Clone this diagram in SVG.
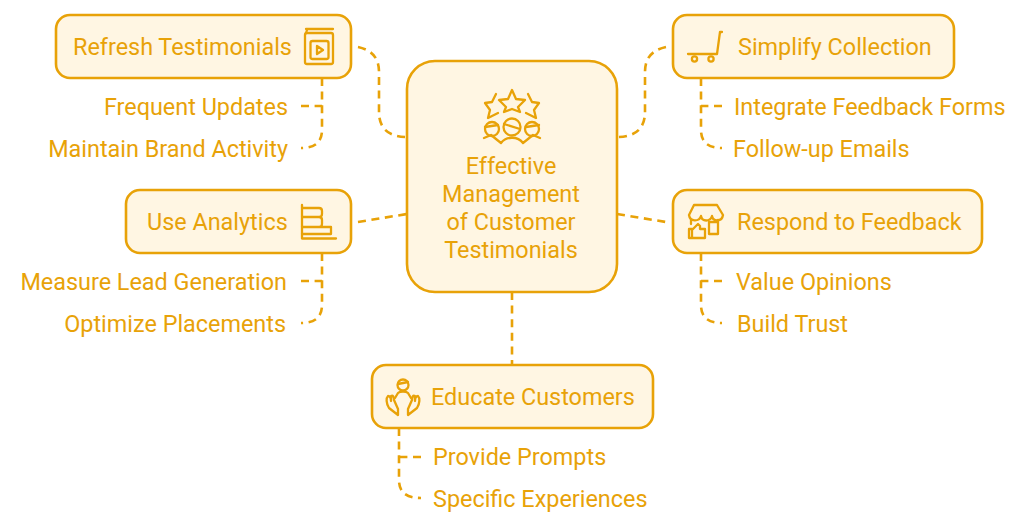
<svg xmlns="http://www.w3.org/2000/svg" width="1024" height="527" viewBox="0 0 1024 527">
<style>
.box{fill:#fff6e3;stroke:#e8a208;stroke-width:2.6}
.t{font-family:Roboto,"Liberation Sans",sans-serif;font-size:23.4px;fill:#e8a208}
.m{text-anchor:middle}
.e{text-anchor:end}
.ic{fill:none;stroke:#e8a208;stroke-width:2.3;stroke-linecap:round;stroke-linejoin:round}
#connectors path{fill:none;stroke:#e8a208;stroke-width:2.6;stroke-dasharray:8 5.6}
</style>
<rect width="1024" height="527" fill="#fff"/>
<g id="connectors">
<path d="M358 47C372 50 379 58 379 72V112C379 128 388 137 407 137"/>
<path d="M666 47C652 50 645 58 645 72V112C645 128 636 137 617 137"/>
<path d="M358 222L407 214"/>
<path d="M617 214L666 222"/>
<path d="M512 292V365"/>
<path d="M301 106H322"/>
<path d="M322 78V130C322 143 314 148 301 148"/>
<path d="M722 106H701"/>
<path d="M701 78V130C701 143 709 148 722 148"/>
<path d="M301 281H322"/>
<path d="M322 253V305C322 318 314 323 301 323"/>
<path d="M722 281H701"/>
<path d="M701 253V305C701 318 709 323 722 323"/>
<path d="M421 457H399"/>
<path d="M399 428V480C399 493 407 498 421 498"/>
</g>
<g id="center">
<rect class="box" x="407" y="61" width="210" height="231" rx="28"/>
<g class="ic">
<path d="M512 90L516 99L525 100L518 107L520 112L512 109L504 112L506 107L499 100L508 99Z"/>
<path d="M496 94L492 102L485 103L490 110L488 118L498 113"/>
<path d="M528 94L532 102L539 103L534 110L536 118L526 113"/>
<circle cx="492" cy="129" r="7"/><circle cx="512" cy="127" r="8.5"/><circle cx="532" cy="129" r="7"/>
<path d="M485 127L498 125M504 124L520 129M526 127L539 125"/>
<path d="M484 138L491 135L501 143C506 136 518 136 523 143L533 135L540 138"/>
</g>
<text class="t m" x="511" y="174">Effective</text>
<text class="t m" x="511" y="202">Management</text>
<text class="t m" x="511" y="230">of Customer</text>
<text class="t m" x="511" y="258">Testimonials</text>
</g>
<g id="refresh">
<rect class="box" x="56" y="15" width="295" height="63" rx="14"/>
<text class="t" x="73" y="55">Refresh Testimonials</text>
<g class="ic">
<rect x="305" y="33" width="28" height="31" rx="2"/>
<path d="M306 29H333M306 33L307 30"/>
<rect x="310.500" y="41" width="18" height="18" rx="2"/>
<path d="M317 46L323 50L317 54Z"/>
</g>
</g>
<g id="refresh-items">
<text class="t e" x="288" y="115">Frequent Updates</text>
<text class="t e" x="288" y="157">Maintain Brand Activity</text>
</g>
<g id="simplify">
<rect class="box" x="673" y="15" width="281" height="63" rx="14"/>
<text class="t" x="738" y="55">Simplify Collection</text>
<g class="ic">
<path d="M688 54H717L720 32H722"/>
<circle cx="694.500" cy="59" r="2.600"/><circle cx="711" cy="59" r="2.600"/>
</g>
</g>
<g id="simplify-items">
<text class="t" x="734" y="115">Integrate Feedback Forms</text>
<text class="t" x="733" y="157">Follow-up Emails</text>
</g>
<g id="analytics">
<rect class="box" x="126" y="190" width="225" height="63" rx="14"/>
<text class="t" x="147" y="230">Use Analytics</text>
<g class="ic">
<path d="M302 205V238.500H336"/>
<path d="M302 208H319Q322 208 322 211V214Q322 217 319 217H302M302 217H319Q322 217 322 220V224Q322 227 319 227H302M302 227H331V234H302"/>
</g>
</g>
<g id="analytics-items">
<text class="t e" x="287" y="290">Measure Lead Generation</text>
<text class="t e" x="286" y="332">Optimize Placements</text>
</g>
<g id="respond">
<rect class="box" x="673" y="190" width="309" height="63" rx="14"/>
<text class="t" x="737" y="230">Respond to Feedback</text>
<g class="ic">
<path d="M694 205H717L723 215C722 222 713 222 712 216C710 222 702 222 701 216C699 222 690 222 689 215Z"/>
<path d="M691 220V224M718 220V234H709V222H718"/>
<path d="M689 229H692V238H689ZM692 230L698 224L700 226V229H705V238H692"/>
</g>
</g>
<g id="respond-items">
<text class="t" x="736" y="290">Value Opinions</text>
<text class="t" x="737" y="332">Build Trust</text>
</g>
<g id="educate">
<rect class="box" x="372" y="365" width="281" height="63" rx="14"/>
<text class="t" x="431" y="405">Educate Customers</text>
<g class="ic">
<circle cx="403" cy="385" r="5.500"/>
<path d="M398 384L408 382M395 398L398 393C400 391 406 391 408 393L411 398"/>
<path d="M398 415L389 408C386 403 386 398 388 396C390 396 391 398 391 401V396C393 395 394 397 394 400L398 409Z"/>
<path d="M408 415L417 408C420 403 420 398 418 396C416 396 415 398 415 401V396C413 395 412 397 412 400L408 409Z"/>
</g>
</g>
<g id="educate-items">
<text class="t" x="433" y="465">Provide Prompts</text>
<text class="t" x="433" y="507">Specific Experiences</text>
</g>
</svg>
